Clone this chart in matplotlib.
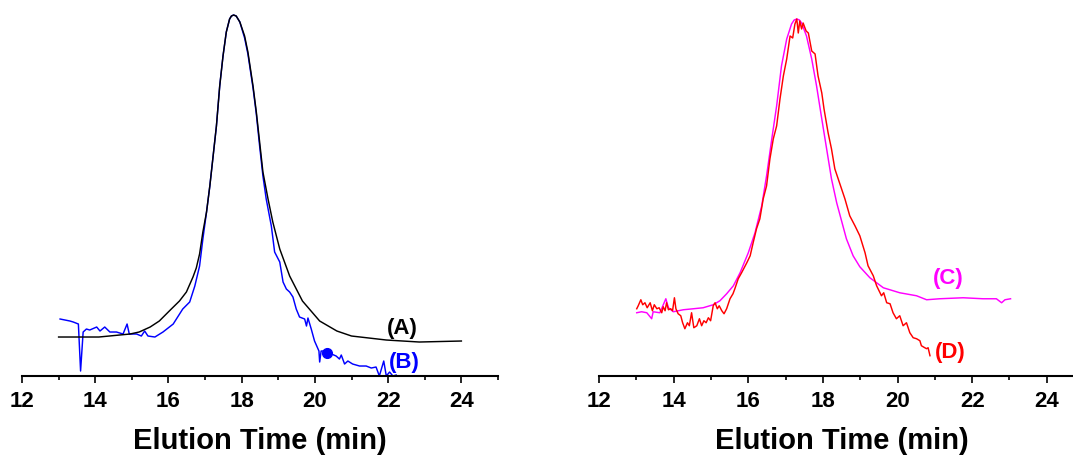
import matplotlib
matplotlib.use("Agg")
import matplotlib.pyplot as plt
from matplotlib.ticker import MultipleLocator

plt.rcParams["font.family"] = ["Liberation Sans", "DejaVu Sans"]
plt.rcParams["font.weight"] = "bold"

# GPC traces, detector response in arbitrary units
time_a = [13.0, 14.1, 14.95, 15.2, 15.5, 15.75, 16.05, 16.3, 16.49, 16.67, 16.76,
          16.85, 16.94, 17.04, 17.13, 17.22, 17.31, 17.40, 17.49, 17.58, 17.67,
          17.72, 17.78, 17.85, 17.95, 18.08, 18.17, 18.31, 18.40, 18.49, 18.58,
          18.72, 18.85, 19.04, 19.31, 19.66, 20.13, 20.6, 21.0, 21.95, 22.85, 24.0]
resp_a = [39, 39, 42, 44, 49, 55, 66, 75, 84, 99, 108,
          122, 144, 164, 190, 220, 250, 290, 320, 344, 357,
          360, 361, 360, 354, 340, 324, 290, 264, 234, 204,
          177, 154, 127, 100, 75, 55, 45, 40, 36, 34, 35]

time_b = [13.04, 13.31, 13.40, 13.54, 13.60, 13.67, 13.76, 13.85, 14.04, 14.13,
          14.26, 14.40, 14.58, 14.76, 14.87, 14.93, 15.13, 15.26, 15.35, 15.44,
          15.63, 15.85, 16.13, 16.39, 16.58, 16.72, 16.85, 16.94, 17.04, 17.13,
          17.22, 17.31, 17.40, 17.49, 17.58, 17.67, 17.72, 17.78, 17.85, 17.95,
          18.08, 18.17, 18.31, 18.40, 18.49, 18.58, 18.67, 18.81, 18.90, 19.04,
          19.13, 19.22, 19.31, 19.40, 19.49, 19.58, 19.72, 19.77, 19.81, 19.90,
          19.99, 20.11, 20.13, 20.17, 20.26, 20.58, 20.67, 20.72, 20.81, 20.90,
          21.03, 21.22, 21.40, 21.54, 21.67, 21.76, 21.88, 21.95, 22.04, 22.13,
          22.22]
resp_b = [57, 55, 54, 52, 5, 44, 47, 46, 49, 45,
          49, 44, 44, 42, 52, 42, 42, 40, 45, 40,
          39, 44, 52, 67, 74, 90, 110, 137, 164, 190,
          220, 250, 290, 320, 344, 357, 360, 361, 360, 354,
          338, 322, 288, 262, 230, 200, 177, 150, 124, 114,
          94, 87, 84, 79, 67, 59, 57, 50, 58, 47,
          35, 25, 14, 25, 25, 20, 17, 21, 12, 15,
          12, 10, 10, 8, 9, 0, 15, 0, 4, 0,
          1]
marker_b = (20.33, 23)

time_c = [13.01, 13.14, 13.28, 13.41, 13.45, 13.63, 13.79, 13.86, 13.99, 14.26,
          14.53, 14.79, 15.06, 15.24, 15.42, 15.60, 15.78, 16.00, 16.18, 16.36,
          16.49, 16.63, 16.76, 16.89, 17.03, 17.16, 17.23, 17.30, 17.37, 17.43,
          17.56, 17.70, 17.83, 17.97, 18.10, 18.23, 18.37, 18.50, 18.63, 18.81,
          18.99, 19.26, 19.62, 20.06, 20.51, 20.78, 21.13, 21.76, 22.29, 22.65,
          22.79, 22.88, 23.03]
resp_c = [63, 64, 63, 57, 64, 63, 77, 68, 64, 66,
          67, 68, 71, 75, 82, 90, 103, 123, 143, 170,
          200, 237, 270, 310, 337, 352, 356, 357, 356, 353,
          340, 317, 290, 257, 227, 197, 173, 155, 137, 120,
          109, 98, 88, 83, 80, 76, 77, 78, 77, 77,
          73, 76, 77]

time_d = [13.01, 13.05, 13.12, 13.17, 13.23, 13.29, 13.37, 13.43, 13.48, 13.55,
          13.61, 13.68, 13.72, 13.77, 13.81, 13.86, 13.92, 13.97, 14.02, 14.06,
          14.12, 14.19, 14.24, 14.30, 14.37, 14.42, 14.48, 14.54, 14.62, 14.69,
          14.75, 14.81, 14.87, 14.93, 14.99, 15.06, 15.11, 15.17, 15.22, 15.29,
          15.35, 15.42, 15.51, 15.59, 15.64, 15.73, 15.82, 15.96, 16.05, 16.13,
          16.22, 16.31, 16.40, 16.49, 16.58, 16.67, 16.76, 16.85, 16.94, 17.03,
          17.12, 17.19, 17.25, 17.30, 17.34, 17.38, 17.43, 17.47, 17.55, 17.61,
          17.70, 17.79, 17.87, 17.97, 18.03, 18.14, 18.23, 18.32, 18.41, 18.50,
          18.59, 18.72, 18.86, 18.99, 19.13, 19.21, 19.35, 19.44, 19.57, 19.63,
          19.71, 19.80, 19.88, 19.97, 20.06, 20.15, 20.24, 20.33, 20.42, 20.51,
          20.60, 20.64, 20.73, 20.78, 20.82, 20.87]
resp_d = [67, 70, 76, 71, 73, 68, 73, 65, 71, 67,
          68, 63, 69, 65, 73, 66, 67, 65, 78, 67,
          62, 60, 53, 47, 53, 50, 63, 48, 50, 57,
          50, 55, 53, 58, 55, 70, 73, 67, 70, 65,
          62, 67, 77, 82, 87, 97, 103, 113, 120, 133,
          147, 157, 177, 190, 217, 237, 250, 277, 300, 317,
          340, 338, 352, 357, 343, 355, 347, 353, 345, 343,
          325, 322, 300, 283, 267, 243, 227, 207, 197, 187,
          177, 160, 150, 140, 123, 110, 100, 90, 80, 83,
          73, 72, 63, 57, 60, 50, 53, 43, 38, 37,
          35, 30, 28, 27, 28, 20]

x_ticks = [12, 14, 16, 18, 20, 22, 24]

fig = plt.figure(figsize=(10.73, 4.60), dpi=100)
ax1 = fig.add_axes([0.0205, 0.1804, 0.4436, 0.8087])
ax2 = fig.add_axes([0.5583, 0.1811, 0.4520, 0.8080])

ax1.plot(time_b, resp_b, color="#0000ff", lw=1.05)
ax1.plot(time_a, resp_a, color="black", lw=1.05)
ax1.plot(*marker_b, "o", color="#0000ff", ms=7)
ax1.text(22.39, 49, "(A)", color="black", fontsize=16, ha="center", va="center")
ax1.text(22.44, 15, "(B)", color="#0000ff", fontsize=16, ha="center", va="center")

ax2.plot(time_c, resp_c, color="#ff00ff", lw=1.05)
ax2.plot(time_d, resp_d, color="#ff0000", lw=1.05)
ax2.text(21.36, 98, "(C)", color="#ff00ff", fontsize=16, ha="center", va="center")
ax2.text(21.41, 24, "(D)", color="#ff0000", fontsize=16, ha="center", va="center")

for ax in (ax1, ax2):
    ax.set_xlim(12, 25)
    ax.set_ylim(0, 372)
    for side in ("left", "right", "top"):
        ax.spines[side].set_visible(False)
    ax.spines["bottom"].set_linewidth(1.5)
    ax.set_yticks([])
    ax.set_xticks(x_ticks)
    ax.xaxis.set_minor_locator(MultipleLocator(1))
    ax.tick_params(axis="x", which="major", direction="out", length=5, width=1.2,
                   labelsize=16, pad=5)
    ax.tick_params(axis="x", which="minor", direction="out", length=3, width=1.2)
    for lab in ax.get_xticklabels():
        lab.set_fontweight("bold")
    ax.set_xlabel("Elution Time (min)", fontsize=21, fontweight="bold", labelpad=11)
    ax.patch.set_alpha(0)

fig.savefig("out.png", dpi=100)
